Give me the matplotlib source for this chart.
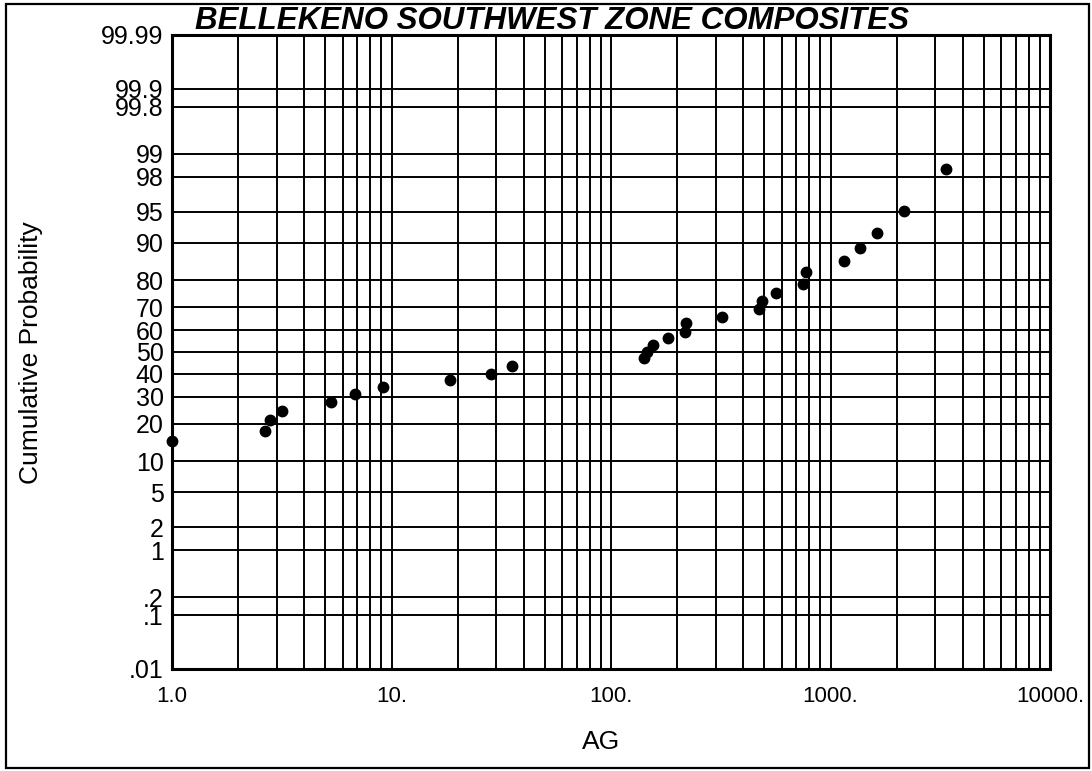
import math

import matplotlib

matplotlib.use("Agg")

import matplotlib.pyplot as plt
import numpy as np
from matplotlib.patches import Rectangle
from matplotlib.ticker import FixedLocator, LogLocator, NullFormatter

# composite values (AG) and their cumulative probability (%)
ag = [1.0, 2.66, 2.79, 3.18, 5.31, 6.83, 9.16, 18.4, 28.5, 35.4,
      140.7, 145.7, 155.1, 181.6, 217.9, 220.2, 319.7, 471.2, 486.2,
      567.3, 752.6, 771.0, 1148, 1358, 1635, 2163, 3370]
cum_prob = [14.7, 17.7, 21.1, 24.4, 27.9, 31.2, 34.1, 37.1, 40.0, 43.6,
            47.0, 50.0, 53.2, 56.3, 59.3, 63.1, 66.0, 69.2, 72.6,
            75.7, 78.9, 82.5, 85.7, 88.8, 91.95, 95.1, 98.4]

prob_ticks = [0.01, 0.1, 0.2, 1, 2, 5, 10, 20, 30, 40, 50, 60, 70, 80,
              90, 95, 98, 99, 99.8, 99.9, 99.99]
prob_labels = [".01", ".1", ".2", "1", "2", "5", "10", "20", "30", "40",
               "50", "60", "70", "80", "90", "95", "98", "99", "99.8",
               "99.9", "99.99"]
x_ticks = [1, 10, 100, 1000, 10000]
x_labels = ["1.0", "10.", "100.", "1000.", "10000."]

FONT = "Liberation Sans"


def norm_ppf(pct):
    # Acklam's rational approximation of the inverse normal cdf
    p = np.clip(np.asarray(pct, dtype=float) / 100.0, 1e-12, 1 - 1e-12)
    a = [-3.969683028665376e+01, 2.209460984245205e+02, -2.759285104469687e+02,
         1.383577518672690e+02, -3.066479806614716e+01, 2.506628277459239e+00]
    b = [-5.447609879822406e+01, 1.615858368580409e+02, -1.556989798598866e+02,
         6.680131188771972e+01, -1.328068155288572e+01]
    c = [-7.784894002430293e-03, -3.223964580411365e-01, -2.400758277161838e+00,
         -2.549671010115405e+00, 4.374664141464968e+00, 2.938163982698783e+00]
    d = [7.784695709041462e-03, 3.224671290700398e-01, 2.445134137142996e+00,
         3.754408181902418e+00]
    plow = 0.02425

    q = p - 0.5
    r = q * q
    central = (((((a[0] * r + a[1]) * r + a[2]) * r + a[3]) * r + a[4]) * r + a[5]) * q / \
              (((((b[0] * r + b[1]) * r + b[2]) * r + b[3]) * r + b[4]) * r + 1)
    ql = np.sqrt(-2 * np.log(p))
    low = (((((c[0] * ql + c[1]) * ql + c[2]) * ql + c[3]) * ql + c[4]) * ql + c[5]) / \
          ((((d[0] * ql + d[1]) * ql + d[2]) * ql + d[3]) * ql + 1)
    qh = np.sqrt(-2 * np.log(1 - p))
    high = -(((((c[0] * qh + c[1]) * qh + c[2]) * qh + c[3]) * qh + c[4]) * qh + c[5]) / \
           ((((d[0] * qh + d[1]) * qh + d[2]) * qh + d[3]) * qh + 1)
    return np.where(p < plow, low, np.where(p > 1 - plow, high, central))


_erf = np.vectorize(math.erf)


def norm_cdf(z):
    z = np.asarray(z, dtype=float)
    return 50.0 * (1.0 + _erf(z / math.sqrt(2.0)))


W, H = 1092, 771
fig = plt.figure(figsize=(W / 100, H / 100), dpi=100)
ax = fig.add_axes([172 / W, 1 - 669 / H, (1050 - 172) / W, (669 - 35) / H])

ax.set_xscale("log")
ax.set_yscale("function", functions=(norm_ppf, norm_cdf))
ax.set_xlim(1, 10000)
ax.set_ylim(0.01, 99.99)

ax.plot(ag, cum_prob, "o", color="black", ms=7.5, clip_on=False, zorder=5)

ax.xaxis.set_major_locator(FixedLocator(x_ticks))
ax.set_xticklabels(x_labels)
ax.xaxis.set_minor_locator(LogLocator(base=10, subs=range(2, 10), numticks=20))
ax.xaxis.set_minor_formatter(NullFormatter())
ax.yaxis.set_major_locator(FixedLocator(prob_ticks))
ax.set_yticklabels(prob_labels)
ax.yaxis.set_minor_locator(FixedLocator([]))

ax.grid(True, which="both", axis="x", color="black", lw=1.4)
ax.grid(True, which="major", axis="y", color="black", lw=1.4)
ax.tick_params(axis="both", which="both", length=0)
ax.tick_params(axis="x", pad=12, labelsize=16)
ax.tick_params(axis="y", pad=6, labelsize=18)
for lab in ax.get_xticklabels() + ax.get_yticklabels():
    lab.set_family(FONT)
for sp in ax.spines.values():
    sp.set_linewidth(2.2)

fig.text(552 / W, 1 - 29 / H, "BELLEKENO SOUTHWEST ZONE COMPOSITES",
         ha="center", va="baseline", fontsize=22.5, fontweight="bold",
         fontstyle="italic", family=FONT)
fig.text(31 / W, 1 - 353 / H, "Cumulative Probability", rotation=90,
         ha="center", va="center", fontsize=19, family=FONT)
fig.text(601 / W, 1 - 742 / H, "AG", ha="center", va="center",
         fontsize=19, family=FONT)

fig.patches.append(Rectangle((6 / W, 3 / H), (1089 - 6) / W, (767 - 3) / H,
                             transform=fig.transFigure, fill=False,
                             edgecolor="black", lw=1.6))

fig.savefig("out.png", dpi=100)
